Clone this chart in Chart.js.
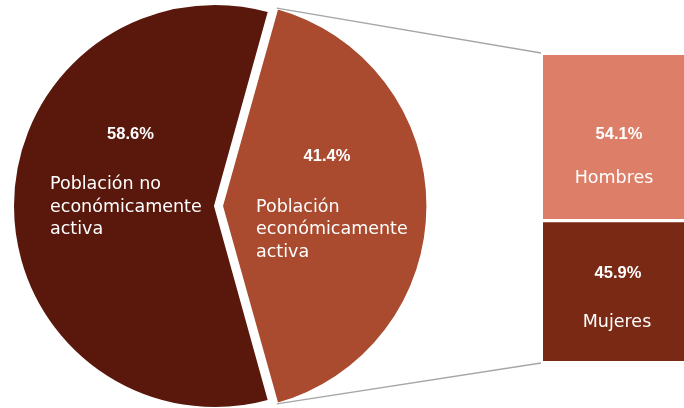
<!DOCTYPE html>
<html lang="es">
<head>
<meta charset="utf-8">
<title>Población económicamente activa</title>
<script src="https://cdn.jsdelivr.net/npm/chart.js@4.4.1/dist/chart.umd.min.js"></script>
<style>
    html, body { margin: 0; padding: 0; background: #fff; }
    #wrap { position: relative; width: 684px; height: 408px; overflow: hidden; }
    #wrap canvas { position: absolute; left: 0; top: 0; }
</style>
</head>
<body>
<div id="wrap">
    <canvas id="pieChart" width="684" height="408"></canvas>
    <canvas id="barChart" width="684" height="408"></canvas>
</div>
<script>
/* =========================================================
   DATA
========================================================= */
const pieLabelLines = [
    ["Población no", "económicamente", "activa"],
    ["Población", "económicamente", "activa"]
];
const pieCategories = pieLabelLines.map(l => l.join(" "));
const pieValues = [58.6, 41.4];
const pieColors = ["#5a180d", "#aa4a2e"];

// stacked from the bottom up
const barCategories = ["Mujeres", "Hombres"];
const barValues = [45.9, 54.1];
const barColors = ["#7a2914", "#dd7f68"];

const WHITE = "#ffffff";
const LINE_GREY = "#a6a6a6";
const textFont = "17.5px 'DejaVu Sans', Verdana, sans-serif";
const pctFont = "bold 16.5px 'Liberation Sans', Arial, sans-serif";

const pct = v => v.toFixed(1) + "%";

/* =========================================================
   LABEL PLUGINS
========================================================= */
// offsets relative to the pie centre: [pctX, pctBaseline, textLeft, firstBaseline]
const pieLabelOffsets = [
    [-84.5, -67, -165, -16.7],
    [112, -45.3, 41, 5.7]
];

const pieLabelsPlugin = {
    id: "pieLabels",
    afterDatasetsDraw(chart) {
        const ctx = chart.ctx;
        const arcs = chart.getDatasetMeta(0).data;
        ctx.save();
        ctx.fillStyle = WHITE;
        ctx.textBaseline = "alphabetic";
        arcs.forEach((arc, i) => {
            const o = pieLabelOffsets[i];
            ctx.font = pctFont;
            ctx.textAlign = "center";
            ctx.fillText(pct(pieValues[i]), arc.x + o[0], arc.y + o[1]);
            ctx.font = textFont;
            ctx.textAlign = "left";
            pieLabelLines[i].forEach((line, k) => {
                ctx.fillText(line, arc.x + o[2], arc.y + o[3] + k * 22.4);
            });
        });
        ctx.restore();
    }
};

// offsets relative to the bar centre: [pctX, pctBaseline, nameX, nameBaseline]
const barLabelOffsets = [
    [4.5, -12.5, 3.5, 36.5],
    [5.5, 1.5, 0.5, 45.5]
];

function arcCorners(arc) {
    // same explode maths as Chart.js ArcElement.draw
    const off = (arc.options.offset || 0) / 4;
    const mid = (arc.startAngle + arc.endAngle) / 2;
    const fix = 1 - Math.sin(Math.min(Math.PI, arc.endAngle - arc.startAngle));
    const cx = arc.x + Math.cos(mid) * off;
    const cy = arc.y + Math.sin(mid) * off;
    const r = arc.outerRadius + off * fix;
    return {
        start: [cx + Math.cos(arc.startAngle) * r, cy + Math.sin(arc.startAngle) * r],
        end: [cx + Math.cos(arc.endAngle) * r, cy + Math.sin(arc.endAngle) * r]
    };
}

const barLabelsPlugin = {
    id: "barLabels",
    afterDatasetsDraw(chart) {
        const ctx = chart.ctx;
        ctx.save();
        ctx.fillStyle = WHITE;
        ctx.textAlign = "center";
        ctx.textBaseline = "alphabetic";
        barCategories.forEach((name, i) => {
            const bar = chart.getDatasetMeta(i).data[0];
            const cy = (bar.y + bar.base) / 2;
            const o = barLabelOffsets[i];
            ctx.font = pctFont;
            ctx.fillText(pct(barValues[i]), bar.x + o[0], cy + o[1]);
            ctx.font = textFont;
            ctx.fillText(name, bar.x + o[2], cy + o[3]);
        });

        // connector lines from the exploded slice to the bar
        const arc = pieChart.getDatasetMeta(0).data[1];
        const c = arcCorners(arc);
        const top = chart.getDatasetMeta(barCategories.length - 1).data[0];
        const bottom = chart.getDatasetMeta(0).data[0];
        const left = top.x - top.width / 2;
        ctx.strokeStyle = LINE_GREY;
        ctx.lineWidth = 1.3;
        ctx.beginPath();
        ctx.moveTo(c.start[0], c.start[1]);
        ctx.lineTo(left - 2, Math.min(top.y, top.base) - 2);
        ctx.moveTo(c.end[0], c.end[1]);
        ctx.lineTo(left - 2, Math.max(bottom.y, bottom.base) + 2);
        ctx.stroke();
        ctx.restore();
    }
};

/* =========================================================
   PIE
========================================================= */
// the active slice is centred on the right-hand side
const pieRotation = 90 + (pieValues[1] / 100) * 180;

const pieChart = new Chart(document.getElementById("pieChart"), {
    type: "pie",
    data: {
        labels: pieCategories,
        datasets: [{
            data: pieValues,
            backgroundColor: pieColors,
            borderColor: WHITE,
            borderWidth: 2,
            offset: [0, 28]
        }]
    },
    options: {
        responsive: false,
        animation: false,
        devicePixelRatio: 1,
        rotation: pieRotation,
        radius: 202,
        layout: { padding: { left: 0, right: 254, top: 4, bottom: 0 } },
        plugins: { legend: { display: false }, tooltip: { enabled: false } }
    },
    plugins: [pieLabelsPlugin]
});

/* =========================================================
   STACKED BAR
========================================================= */
const barChart = new Chart(document.getElementById("barChart"), {
    type: "bar",
    data: {
        labels: [""],
        datasets: barCategories.map((name, i) => ({
            label: name,
            data: [barValues[i]],
            backgroundColor: barColors[i],
            borderColor: WHITE,
            borderWidth: i === 0 ? { top: 2, bottom: 0, left: 0, right: 0 } : { top: 0, bottom: 2, left: 0, right: 0 },
            borderSkipped: false,
            barPercentage: 1,
            categoryPercentage: 1
        }))
    },
    options: {
        responsive: false,
        animation: false,
        devicePixelRatio: 1,
        layout: { padding: { left: 543, right: 0, top: 55, bottom: 47 } },
        scales: {
            x: { display: false, stacked: true },
            y: { display: false, stacked: true, min: 0, max: 100 }
        },
        plugins: { legend: { display: false }, tooltip: { enabled: false } }
    },
    plugins: [barLabelsPlugin]
});
</script>
</body>
</html>
